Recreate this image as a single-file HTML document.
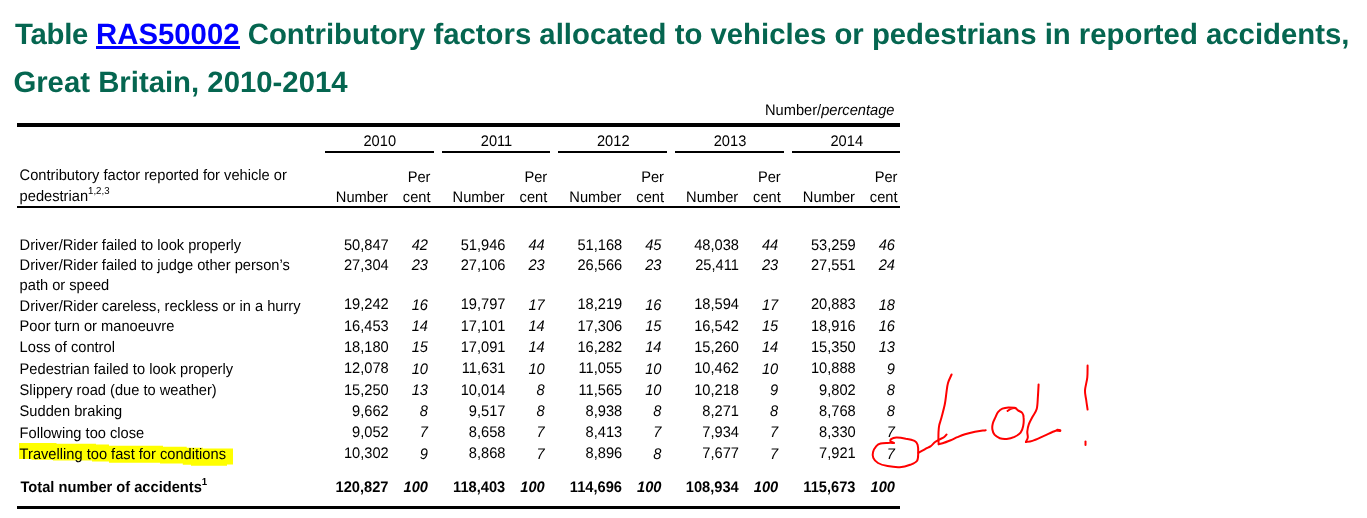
<!DOCTYPE html>
<html><head><meta charset="utf-8"><style>
html,body{margin:0;padding:0;background:#fff;width:1367px;height:518px;overflow:hidden;position:relative}
.t{position:absolute;white-space:nowrap;text-rendering:geometricPrecision;transform:scaleY(1.045);transform-origin:0 11px;font-family:"Liberation Sans",sans-serif;font-size:14.667px;line-height:1;color:#000}
.ti{font-weight:bold;color:#056650;transform:none}
.ti a{color:#0000ff;text-decoration:none}
.r{position:absolute}
sup{font-size:0.66em;vertical-align:0;position:relative;top:-0.68em}
#hl{position:absolute}
svg{position:absolute;left:0;top:0}
</style></head><body>
<svg id="hl" width="1367" height="518" style="z-index:0"><path d="M19,443.1 L56.5,443.1 L56.5,443.8 L96,443.8 L96,444.6 L109,444.6 L109,445.8 L163,445.8 L163,446.8 L186.7,446.8 L186.7,447.8 L203,447.8 L203,448.6 L233,448.6 L233,464.5 L227,464.5 L227,465.7 L191,465.7 L191,464.8 L182.8,464.8 L182.8,463.6 L160,463.6 L160,462.7 L109,462.7 L109,461.5 L92,461.5 L92,460.6 L53,460.6 L53,459.8 L31.5,459.8 L31.5,458.9 L19,458.9 Z" fill="#ffff00"/></svg>
<div style="position:absolute;left:0;top:0;width:1367px;height:518px;z-index:1;transform:translateZ(0)">
<div class="t ti" style="left:15.00px;top:20.17px;font-size:29.333px;"><span style="letter-spacing:-0.25px">Table </span><a>RAS50002</a> Contributory factors allocated to vehicles or pedestrians in reported accidents,</div>
<div class="t ti" style="left:13.40px;top:67.77px;font-size:29.333px;">Great Britain, 2010-2014</div>
<div class="r" style="left:96px;top:46px;width:144px;height:3px;background:#0000ff"></div>
<div class="t" style="right:472.50px;top:104.00px;">Number/<i>percentage</i></div>
<div class="r" style="left:17px;top:123px;width:883px;height:3.5px;background:#000"></div>
<div class="r" style="left:325px;top:150.5px;width:109px;height:2.0px;background:#000"></div>
<div class="t" style="left:179.75px;width:400px;text-align:center;top:135.00px;">2010</div>
<div class="t" style="right:979.00px;top:191.00px;">Number</div>
<div class="t" style="right:936.50px;top:171.00px;">Per</div>
<div class="t" style="right:936.50px;top:191.00px;">cent</div>
<div class="r" style="left:442px;top:150.5px;width:108px;height:2.0px;background:#000"></div>
<div class="t" style="left:296.50px;width:400px;text-align:center;top:135.00px;">2011</div>
<div class="t" style="right:862.25px;top:191.00px;">Number</div>
<div class="t" style="right:819.75px;top:171.00px;">Per</div>
<div class="t" style="right:819.75px;top:191.00px;">cent</div>
<div class="r" style="left:558px;top:150.5px;width:109px;height:2.0px;background:#000"></div>
<div class="t" style="left:413.25px;width:400px;text-align:center;top:135.00px;">2012</div>
<div class="t" style="right:745.50px;top:191.00px;">Number</div>
<div class="t" style="right:703.00px;top:171.00px;">Per</div>
<div class="t" style="right:703.00px;top:191.00px;">cent</div>
<div class="r" style="left:675px;top:150.5px;width:109px;height:2.0px;background:#000"></div>
<div class="t" style="left:530.00px;width:400px;text-align:center;top:135.00px;">2013</div>
<div class="t" style="right:628.75px;top:191.00px;">Number</div>
<div class="t" style="right:586.25px;top:171.00px;">Per</div>
<div class="t" style="right:586.25px;top:191.00px;">cent</div>
<div class="r" style="left:792px;top:150.5px;width:108px;height:2.0px;background:#000"></div>
<div class="t" style="left:646.75px;width:400px;text-align:center;top:135.00px;">2014</div>
<div class="t" style="right:512.00px;top:191.00px;">Number</div>
<div class="t" style="right:469.50px;top:171.00px;">Per</div>
<div class="t" style="right:469.50px;top:191.00px;">cent</div>
<div class="t" style="left:19.60px;top:169.00px;">Contributory factor reported for vehicle or</div>
<div class="t" style="left:19.60px;top:190.00px;">pedestrian<sup>1,2,3</sup></div>
<div class="r" style="left:17px;top:206px;width:883px;height:2px;background:#000"></div>
<div class="t" style="left:19.60px;top:239.00px;">Driver/Rider failed to look properly</div>
<div class="t" style="right:978.30px;top:239.00px;">50,847</div>
<div class="t" style="right:939.00px;top:239.00px;font-style:italic">42</div>
<div class="t" style="right:861.55px;top:239.00px;">51,946</div>
<div class="t" style="right:822.25px;top:239.00px;font-style:italic">44</div>
<div class="t" style="right:744.80px;top:239.00px;">51,168</div>
<div class="t" style="right:705.50px;top:239.00px;font-style:italic">45</div>
<div class="t" style="right:628.05px;top:239.00px;">48,038</div>
<div class="t" style="right:588.75px;top:239.00px;font-style:italic">44</div>
<div class="t" style="right:511.30px;top:239.00px;">53,259</div>
<div class="t" style="right:472.00px;top:239.00px;font-style:italic">46</div>
<div class="t" style="left:19.60px;top:259.00px;">Driver/Rider failed to judge other person&rsquo;s</div>
<div class="t" style="right:978.30px;top:259.00px;">27,304</div>
<div class="t" style="right:939.00px;top:259.00px;font-style:italic">23</div>
<div class="t" style="right:861.55px;top:259.00px;">27,106</div>
<div class="t" style="right:822.25px;top:259.00px;font-style:italic">23</div>
<div class="t" style="right:744.80px;top:259.00px;">26,566</div>
<div class="t" style="right:705.50px;top:259.00px;font-style:italic">23</div>
<div class="t" style="right:628.05px;top:259.00px;">25,411</div>
<div class="t" style="right:588.75px;top:259.00px;font-style:italic">23</div>
<div class="t" style="right:511.30px;top:259.00px;">27,551</div>
<div class="t" style="right:472.00px;top:259.00px;font-style:italic">24</div>
<div class="t" style="left:19.60px;top:300.00px;">Driver/Rider careless, reckless or in a hurry</div>
<div class="t" style="right:978.30px;top:298.00px;">19,242</div>
<div class="t" style="right:939.00px;top:299.00px;font-style:italic">16</div>
<div class="t" style="right:861.55px;top:298.00px;">19,797</div>
<div class="t" style="right:822.25px;top:299.00px;font-style:italic">17</div>
<div class="t" style="right:744.80px;top:298.00px;">18,219</div>
<div class="t" style="right:705.50px;top:299.00px;font-style:italic">16</div>
<div class="t" style="right:628.05px;top:298.00px;">18,594</div>
<div class="t" style="right:588.75px;top:299.00px;font-style:italic">17</div>
<div class="t" style="right:511.30px;top:298.00px;">20,883</div>
<div class="t" style="right:472.00px;top:299.00px;font-style:italic">18</div>
<div class="t" style="left:19.60px;top:320.00px;">Poor turn or manoeuvre</div>
<div class="t" style="right:978.30px;top:320.00px;">16,453</div>
<div class="t" style="right:939.00px;top:320.00px;font-style:italic">14</div>
<div class="t" style="right:861.55px;top:320.00px;">17,101</div>
<div class="t" style="right:822.25px;top:320.00px;font-style:italic">14</div>
<div class="t" style="right:744.80px;top:320.00px;">17,306</div>
<div class="t" style="right:705.50px;top:320.00px;font-style:italic">15</div>
<div class="t" style="right:628.05px;top:320.00px;">16,542</div>
<div class="t" style="right:588.75px;top:320.00px;font-style:italic">15</div>
<div class="t" style="right:511.30px;top:320.00px;">18,916</div>
<div class="t" style="right:472.00px;top:320.00px;font-style:italic">16</div>
<div class="t" style="left:19.60px;top:341.00px;">Loss of control</div>
<div class="t" style="right:978.30px;top:341.00px;">18,180</div>
<div class="t" style="right:939.00px;top:341.00px;font-style:italic">15</div>
<div class="t" style="right:861.55px;top:341.00px;">17,091</div>
<div class="t" style="right:822.25px;top:341.00px;font-style:italic">14</div>
<div class="t" style="right:744.80px;top:341.00px;">16,282</div>
<div class="t" style="right:705.50px;top:341.00px;font-style:italic">14</div>
<div class="t" style="right:628.05px;top:341.00px;">15,260</div>
<div class="t" style="right:588.75px;top:341.00px;font-style:italic">14</div>
<div class="t" style="right:511.30px;top:341.00px;">15,350</div>
<div class="t" style="right:472.00px;top:341.00px;font-style:italic">13</div>
<div class="t" style="left:19.60px;top:363.00px;">Pedestrian failed to look properly</div>
<div class="t" style="right:978.30px;top:362.00px;">12,078</div>
<div class="t" style="right:939.00px;top:363.00px;font-style:italic">10</div>
<div class="t" style="right:861.55px;top:362.00px;">11,631</div>
<div class="t" style="right:822.25px;top:363.00px;font-style:italic">10</div>
<div class="t" style="right:744.80px;top:362.00px;">11,055</div>
<div class="t" style="right:705.50px;top:363.00px;font-style:italic">10</div>
<div class="t" style="right:628.05px;top:362.00px;">10,462</div>
<div class="t" style="right:588.75px;top:363.00px;font-style:italic">10</div>
<div class="t" style="right:511.30px;top:362.00px;">10,888</div>
<div class="t" style="right:472.00px;top:363.00px;font-style:italic">9</div>
<div class="t" style="left:19.60px;top:384.00px;">Slippery road (due to weather)</div>
<div class="t" style="right:978.30px;top:384.00px;">15,250</div>
<div class="t" style="right:939.00px;top:384.00px;font-style:italic">13</div>
<div class="t" style="right:861.55px;top:384.00px;">10,014</div>
<div class="t" style="right:822.25px;top:384.00px;font-style:italic">8</div>
<div class="t" style="right:744.80px;top:384.00px;">11,565</div>
<div class="t" style="right:705.50px;top:384.00px;font-style:italic">10</div>
<div class="t" style="right:628.05px;top:384.00px;">10,218</div>
<div class="t" style="right:588.75px;top:384.00px;font-style:italic">9</div>
<div class="t" style="right:511.30px;top:384.00px;">9,802</div>
<div class="t" style="right:472.00px;top:384.00px;font-style:italic">8</div>
<div class="t" style="left:19.60px;top:405.00px;">Sudden braking</div>
<div class="t" style="right:978.30px;top:405.00px;">9,662</div>
<div class="t" style="right:939.00px;top:405.00px;font-style:italic">8</div>
<div class="t" style="right:861.55px;top:405.00px;">9,517</div>
<div class="t" style="right:822.25px;top:405.00px;font-style:italic">8</div>
<div class="t" style="right:744.80px;top:405.00px;">8,938</div>
<div class="t" style="right:705.50px;top:405.00px;font-style:italic">8</div>
<div class="t" style="right:628.05px;top:405.00px;">8,271</div>
<div class="t" style="right:588.75px;top:405.00px;font-style:italic">8</div>
<div class="t" style="right:511.30px;top:405.00px;">8,768</div>
<div class="t" style="right:472.00px;top:405.00px;font-style:italic">8</div>
<div class="t" style="left:19.60px;top:427.00px;">Following too close</div>
<div class="t" style="right:978.30px;top:426.00px;">9,052</div>
<div class="t" style="right:939.00px;top:426.00px;font-style:italic">7</div>
<div class="t" style="right:861.55px;top:426.00px;">8,658</div>
<div class="t" style="right:822.25px;top:426.00px;font-style:italic">7</div>
<div class="t" style="right:744.80px;top:426.00px;">8,413</div>
<div class="t" style="right:705.50px;top:426.00px;font-style:italic">7</div>
<div class="t" style="right:628.05px;top:426.00px;">7,934</div>
<div class="t" style="right:588.75px;top:426.00px;font-style:italic">7</div>
<div class="t" style="right:511.30px;top:426.00px;">8,330</div>
<div class="t" style="right:472.00px;top:426.00px;font-style:italic">7</div>
<div class="t" style="left:19.60px;top:448.00px;">Travelling too fast for conditions</div>
<div class="t" style="right:978.30px;top:447.00px;">10,302</div>
<div class="t" style="right:939.00px;top:448.00px;font-style:italic">9</div>
<div class="t" style="right:861.55px;top:447.00px;">8,868</div>
<div class="t" style="right:822.25px;top:448.00px;font-style:italic">7</div>
<div class="t" style="right:744.80px;top:447.00px;">8,896</div>
<div class="t" style="right:705.50px;top:448.00px;font-style:italic">8</div>
<div class="t" style="right:628.05px;top:447.00px;">7,677</div>
<div class="t" style="right:588.75px;top:448.00px;font-style:italic">7</div>
<div class="t" style="right:511.30px;top:447.00px;">7,921</div>
<div class="t" style="right:472.00px;top:448.00px;font-style:italic">7</div>
<div class="t" style="left:19.60px;top:279.00px;">path or speed</div>
<div class="t" style="left:20.50px;top:481.00px;font-weight:bold">Total number of accidents<sup>1</sup></div>
<div class="t" style="right:978.50px;top:481.00px;font-weight:bold">120,827</div>
<div class="t" style="right:939.00px;top:481.00px;font-weight:bold;font-style:italic">100</div>
<div class="t" style="right:861.75px;top:481.00px;font-weight:bold">118,403</div>
<div class="t" style="right:822.25px;top:481.00px;font-weight:bold;font-style:italic">100</div>
<div class="t" style="right:745.00px;top:481.00px;font-weight:bold">114,696</div>
<div class="t" style="right:705.50px;top:481.00px;font-weight:bold;font-style:italic">100</div>
<div class="t" style="right:628.25px;top:481.00px;font-weight:bold">108,934</div>
<div class="t" style="right:588.75px;top:481.00px;font-weight:bold;font-style:italic">100</div>
<div class="t" style="right:511.50px;top:481.00px;font-weight:bold">115,673</div>
<div class="t" style="right:472.00px;top:481.00px;font-weight:bold;font-style:italic">100</div>
<div class="r" style="left:16.6px;top:505.8px;width:883.6999999999999px;height:3.3999999999999773px;background:#000"></div>
</div>
<svg width="1367" height="518" style="z-index:2" fill="none" stroke="#ff0000" stroke-width="2" stroke-linecap="round" stroke-linejoin="round">
<path d="M894.1,442.9 C893.5,442.7 891.1,442.1 890.6,441.5 C890.1,440.9 890.2,439.8 891.1,439.1 C892.0,438.5 893.8,437.7 896.3,437.6 C898.8,437.5 902.8,438.1 905.8,438.7 C908.8,439.2 912.5,439.9 914.5,440.9 C916.5,441.9 917.0,442.9 917.6,444.8 C918.2,446.8 918.3,449.9 918.2,452.6 C918.1,455.3 918.4,458.8 917.1,460.8 C915.8,462.8 913.1,463.7 910.2,464.8 C907.3,465.9 903.6,467.0 899.8,467.2 C896.0,467.4 891.2,466.8 887.6,466.1 C884.0,465.4 880.4,464.4 878.0,463.0 C875.6,461.6 874.1,459.6 873.3,457.8 C872.5,456.0 872.5,454.1 873.0,452.2 C873.5,450.2 875.0,447.6 876.3,446.1 C877.6,444.7 878.7,444.0 880.6,443.5 C882.5,443.0 885.4,443.0 887.6,442.9 C889.9,442.8 893.0,442.9 894.1,442.9"/><path d="M918.4,452.8 C919.6,452.1 923.8,449.8 925.8,448.7 C927.8,447.6 928.8,447.5 930.4,446.4 C932.0,445.3 933.6,443.1 935.1,442.0 C936.6,440.9 937.7,440.4 939.2,439.6 C940.7,438.8 942.7,438.1 943.9,437.2 C945.1,436.3 946.1,434.9 946.6,434.5"/><path d="M951.6,374.5 C951.0,375.9 948.9,379.9 948.0,383.0 C947.1,386.1 946.9,389.3 946.4,392.9 C945.9,396.4 945.6,400.2 944.8,404.3 C944.0,408.4 942.4,414.0 941.5,417.5 C940.6,421.0 939.7,422.9 939.2,425.4 C938.7,427.8 938.6,429.9 938.5,432.2 C938.4,434.4 938.4,436.9 938.4,438.9 C938.4,440.9 938.7,443.3 938.7,444.2"/><path d="M938.7,444.2 C939.4,444.1 940.6,443.9 942.6,443.3 C944.6,442.7 948.2,441.3 950.7,440.3 C953.2,439.3 955.0,438.2 957.4,437.2 C959.8,436.2 962.1,435.2 965.0,434.3 C967.9,433.4 971.5,432.5 975.0,431.8 C978.5,431.1 983.9,430.5 985.7,430.2"/><path d="M1015.8,408.0 C1014.6,407.9 1010.6,407.3 1008.4,407.4 C1006.2,407.5 1004.1,407.9 1002.4,408.7 C1000.7,409.5 999.2,410.8 998.0,412.2 C996.8,413.6 996.3,415.5 995.4,417.4 C994.5,419.3 993.3,421.4 992.8,423.4 C992.3,425.4 992.1,427.6 992.4,429.5 C992.7,431.4 993.3,433.2 994.5,434.7 C995.7,436.1 997.8,437.5 999.8,438.2 C1001.8,438.9 1004.2,439.1 1006.7,438.9 C1009.2,438.7 1012.2,437.9 1014.5,436.9 C1016.8,435.8 1019.1,434.4 1020.6,432.6 C1022.1,430.8 1022.7,428.5 1023.2,426.0 C1023.7,423.5 1023.8,419.6 1023.6,417.4 C1023.5,415.2 1023.2,414.2 1022.3,413.0 C1021.4,411.8 1019.1,411.2 1018.0,410.4 C1016.9,409.6 1016.6,408.5 1015.4,408.2 C1014.2,407.9 1012.3,408.2 1011.0,408.7 C1009.7,409.1 1008.2,410.5 1007.6,410.9"/><path d="M1038.6,384.4 C1038.5,386.4 1038.2,392.6 1037.9,396.7 C1037.6,400.8 1037.6,405.7 1036.7,409.1 C1035.8,412.5 1033.7,414.5 1032.4,417.0 C1031.1,419.5 1029.7,421.9 1028.8,424.3 C1027.9,426.7 1027.5,429.3 1027.3,431.5 C1027.1,433.7 1028.0,435.6 1027.8,437.3 C1027.6,439.1 1026.2,441.2 1025.9,442.0"/><path d="M1025.9,442.0 C1027.0,441.8 1029.4,441.9 1032.4,440.9 C1035.4,439.9 1040.1,437.6 1044.0,435.9 C1047.9,434.2 1052.9,431.7 1055.6,430.8 C1058.2,429.9 1059.2,430.5 1059.9,430.4"/><path d="M1087.6,365.6 C1087.5,367.6 1087.7,373.3 1087.3,377.4 C1086.9,381.5 1085.2,386.6 1085.0,390.4 C1084.8,394.2 1085.8,396.8 1086.2,400.0 C1086.6,403.2 1087.4,408.0 1087.6,409.6"/><path d="M1085.5,441.6 L1085.5,444.9"/><path d="M1057.5,430.2 L1060,430.6" stroke-width="2.8"/>
</svg>
</body></html>
